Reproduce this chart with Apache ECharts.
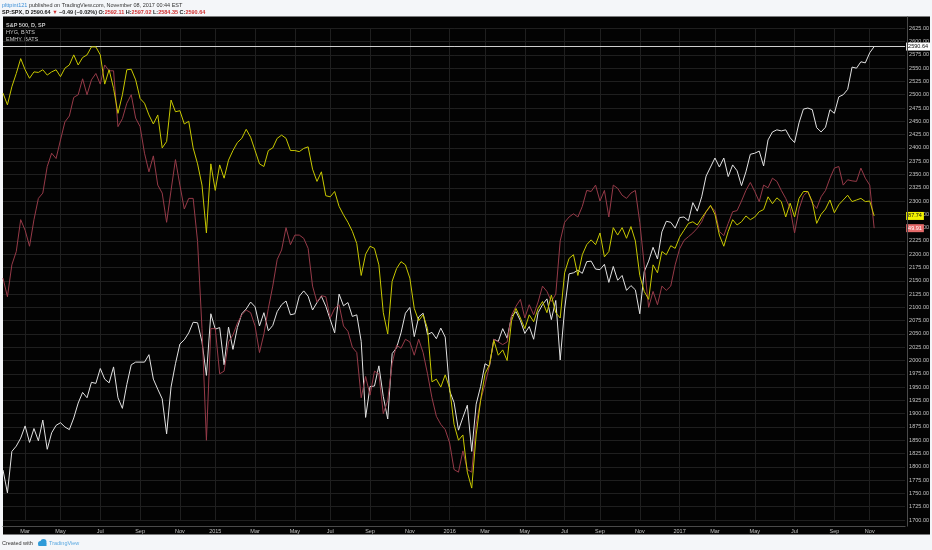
<!DOCTYPE html>
<html><head><meta charset="utf-8">
<script src="https://cdn.jsdelivr.net/npm/echarts@6/dist/echarts.min.js"></script>
<style>html,body{margin:0;padding:0;background:#f4f6f9;}#c{width:932px;height:550px;}</style>
</head><body><div id="c"></div>
<script>
// ---- categories (weekly sample dates) ----
const startDate = [2014, 0, 30];
const weeklyCount = 197;
const lastDate = '2017-11-07';
const futureDates = ['2017-11-14','2017-11-21','2017-11-28','2017-12-05','2017-12-12','2017-12-19','2017-12-26'];
function weeklyDates(s, n){const out=[];const t0=Date.UTC(s[0],s[1],s[2]);for(let k=0;k<n;k++){out.push(new Date(t0+k*7*86400000).toISOString().slice(0,10));}return out;}
const categories = weeklyDates(startDate, weeklyCount).concat([lastDate], futureDates);

// ---- series values (on the S&P price scale) ----
const spx = [
1794,1751,1829,1839,1854, 1877,1846,1872,1849, 1888,1833,1864,1878, 1883,1875,1870,1892,1920,
1940,1930,1959,1957, 1985,1965,1958,1988,1930, 1910,1955,1992,1997, 1997,1997,2011,1965,
1946,1928,1862,1950,1994, 2031,2039,2052,2072, 2071,2035,1972,2088,
2059,2062,1992,2063,2021, 2062,2088,2097,2110, 2101,2065,2090,2056, 2066,2092,2105,2112,2086,
2088,2121,2131,2121, 2095,2109,2121,2102, 2077,2052,2125,2103,2109, 2083,2086,2036,1893,
1951,1952,1990,1932, 1890,2013,2024,2052,2089, 2100,2045,2082,2089, 2049,2053,2041,2061,2044,
1943,1921,1869,1893, 1916,1829,1918,1951, 1994,1989,2040,2036,2060, 2042,2083,2092,2075,
2051,2064,2040,2090, 2105,2116,2077,2113,2001, 2097,2163,2165,2170, 2164,2186,2187,2172,
2171,2181,2147,2177,2151, 2160,2132,2141,2133, 2088,2167,2187,2213, 2191,2242,2262,2260,2249,
2269,2270,2263,2297, 2281,2308,2347,2364, 2381,2364,2381,2346,2368, 2357,2329,2355,2388,
2390,2394,2366,2415, 2430,2434,2432,2434,2419, 2410,2447,2473,2475, 2472,2438,2430,2439,2472,
2465,2496,2500,2510, 2552,2550,2562,2560, 2579, 2590.64];
const hyg = [
2503,2481,2515,2540,2568,2547,2531,2543,2542,2547,
2537,2543,2547,2534,2550,2556,2575,2556,2570,2575,
2590,2590,2575,2520,2547,2512,2465,2500,2547,2548,
2528,2493,2484,2462,2445,2462,2400,2412,2490,2468,
2470,2445,2450,2400,2370,2330,2240,2370,2320,2368,
2343,2377,2395,2410,2418,2435,2420,2395,2370,2365,
2395,2400,2418,2424,2418,2395,2395,2393,2399,2402,
2360,2337,2355,2310,2308,2318,2290,2274,2260,2243,
2220,2160,2200,2215,2211,2180,2090,2050,2149,2173,
2186,2180,2155,2098,2075,2086,2060,1960,1965,1950,
1973,1948,1880,1850,1860,1790,1760,1860,1925,1975,
1992,2038,2010,2020,2000,2075,2098,2080,2060,2086,
2073,2098,2111,2090,2123,2090,2080,2165,2192,2199,
2160,2199,2218,2227,2218,2240,2195,2205,2250,2236,
2250,2230,2252,2225,2160,2130,2115,2180,2165,2205,
2199,2216,2211,2232,2245,2258,2261,2255,2268,2280,
2292,2275,2236,2215,2243,2265,2255,2261,2272,2265,
2270,2280,2284,2308,2295,2306,2299,2270,2296,2270,
2305,2318,2318,2299,2258,2275,2285,2302,2278,2293,
2302,2311,2299,2302,2305,2299,2300,2272];
const emhy = [
2155,2120,2180,2205,2265,2245,2215,2265,2305,2315,
2365,2390,2380,2415,2449,2460,2495,2500,2530,2500,
2528,2540,2520,2556,2545,2545,2440,2455,2484,2500,
2456,2440,2390,2355,2385,2330,2315,2260,2320,2378,
2330,2285,2305,2305,2224,2060,1850,2060,2060,1975,
1980,2035,2048,2070,2086,2095,2090,2065,2015,2050,
2098,2140,2190,2208,2250,2218,2236,2236,2230,2211,
2140,2110,2122,2120,2080,2098,2105,2065,2055,2025,
2015,1930,1970,1935,1980,1975,1900,1925,1995,2029,
2023,2040,2035,2010,2040,2015,1975,1930,1895,1880,
1870,1845,1795,1790,1830,1795,1790,1880,1925,1955,
1990,2040,2035,2030,2035,2085,2102,2115,2080,2105,
2086,2110,2140,2130,2111,2125,2225,2260,2270,2276,
2270,2290,2320,2318,2330,2300,2320,2270,2330,2324,
2311,2305,2315,2320,2260,2180,2100,2130,2105,2140,
2132,2140,2180,2210,2226,2233,2240,2249,2261,2280,
2290,2282,2243,2235,2258,2280,2282,2300,2320,2335,
2318,2299,2330,2325,2343,2337,2320,2305,2286,2240,
2285,2310,2318,2296,2286,2308,2320,2343,2362,2365,
2330,2340,2338,2337,2362,2343,2330,2249];

// ---- tick labels ----
const tickMonths = ['2014-03','2014-05','2014-07','2014-09','2014-11','2015-01','2015-03','2015-05','2015-07','2015-09','2015-11',
  '2016-01','2016-03','2016-05','2016-07','2016-09','2016-11','2017-01','2017-03','2017-05','2017-07','2017-09','2017-11'];
const tickTexts = ['Mar','May','Jul','Sep','Nov','2015','Mar','May','Jul','Sep','Nov',
  '2016','Mar','May','Jul','Sep','Nov','2017','Mar','May','Jul','Sep','Nov'];
const yMin = 1700, yMax = 2625, yStep = 25;
const seriesNames = ['S&P 500, D, SP','HYG, BATS','EMHY, BATS'];
const lastTags = ['2590.64','87.74','49.91'];

const tickMap = {};
tickMonths.forEach((m,i)=>{const idx=categories.findIndex(d=>d.startsWith(m)); if(idx>=0) tickMap[idx]=tickTexts[i];});
const isTick = (i)=> tickMap[i] !== undefined;

const FONT = 'Liberation Sans, Arial, sans-serif';
const chart = echarts.init(document.getElementById('c'), null, {renderer:'canvas'});

function tagLine(value, text, bg, fg, lineColor){
  return {
    silent:true, symbol:'none', animation:false,
    lineStyle:{color:lineColor, width:1, type:'solid'},
    label:{show:true, position:'end', distance:1, formatter:text, backgroundColor:bg, color:fg,
      fontSize:5.5, fontFamily:FONT, padding:[1,2,1,2]},
    data:[{yAxis:value}]
  };
}

chart.setOption({
  animation:false,
  backgroundColor:'#f4f6f9',
  grid:{left:3, right:25, top:28.3, bottom:30, containLabel:false},
  xAxis:{
    type:'category', data:categories, boundaryGap:false, offset:6,
    axisLine:{show:true, lineStyle:{color:'#4a4a4a', width:1}},
    axisTick:{show:false},
    axisLabel:{interval:(i)=>isTick(i), formatter:(v,i)=>tickMap[i]||'', color:'#c4c4c4', fontSize:5.5, fontFamily:FONT, margin:2},
    splitLine:{show:true, interval:(i)=>isTick(i), lineStyle:{color:'#1f1f1f', width:1}}
  },
  yAxis:{
    type:'value', position:'right', min:yMin, max:yMax, interval:yStep,
    axisLine:{show:false}, axisTick:{show:false},
    axisLabel:{formatter:(v)=>v.toFixed(2), color:'#c4c4c4', fontSize:5.5, fontFamily:FONT, margin:4},
    splitLine:{show:true, lineStyle:{color:'#1f1f1f', width:1}}
  },
  series:[
    {name:seriesNames[0], type:'line', data:spx, showSymbol:false, symbol:'none',
      lineStyle:{color:'#e2e2e2', width:1}, z:3,
      markLine:tagLine(spx[spx.length-1], lastTags[0], '#ffffff', '#111', '#cfcfcf')},
    {name:seriesNames[2], type:'line', data:emhy, showSymbol:false, symbol:'none',
      lineStyle:{color:'#963a48', width:1}, z:4,
      markLine:tagLine(emhy[emhy.length-1], lastTags[2], '#e46a6a', '#ffffff', 'rgba(0,0,0,0)')},
    {name:seriesNames[1], type:'line', data:hyg, showSymbol:false, symbol:'none',
      lineStyle:{color:'#c8c800', width:1}, z:5,
      markLine:tagLine(hyg[hyg.length-1], lastTags[1], '#f4f400', '#111', 'rgba(0,0,0,0)')}
  ],
  graphic:[
    {type:'rect', z:-100, silent:true, shape:{x:3, y:16.5, width:927, height:518}, style:{fill:'#030303'}},
    {type:'line', z:50, silent:true, shape:{x1:907.5, y1:16.5, x2:907.5, y2:526.5}, style:{stroke:'#4a4a4a', lineWidth:1}},
    {type:'text', silent:true, left:2, top:2, style:{
      text:'{u|plttpint121} published on TradingView.com, November 08, 2017 00:44 EST',
      fontSize:5.5, fontFamily:FONT, fill:'#333',
      rich:{u:{fill:'#3b8fd8', fontSize:5.5, fontFamily:FONT}}}},
    {type:'text', silent:true, left:2, top:9.5, style:{
      text:'{b|SP:SPX, D} 2590.64 {r|▼} −0.49 (−0.02%) O:{r|2592.11} H:{r|2597.02} L:{r|2584.35} C:{r|2590.64}',
      fontSize:5.5, fontFamily:FONT, fill:'#222', fontWeight:'bold',
      rich:{b:{fontWeight:'bold', fill:'#111', fontSize:5.5, fontFamily:FONT}, r:{fill:'#d03030', fontSize:5.5, fontFamily:FONT, fontWeight:'bold'}}}},
    {type:'text', silent:true, left:6, top:22, style:{text:seriesNames[0], fontSize:5.5, fontFamily:FONT, fill:'#c8c8c8', fontWeight:'bold'}},
    {type:'text', silent:true, left:6, top:29, style:{text:seriesNames[1], fontSize:5.5, fontFamily:FONT, fill:'#c8c8c8'}},
    {type:'text', silent:true, left:6, top:36, style:{text:seriesNames[2], fontSize:5.5, fontFamily:FONT, fill:'#c8c8c8'}},
    {type:'text', silent:true, left:2, top:540, style:{text:'Created with', fontSize:5.5, fontFamily:FONT, fill:'#333'}},
    {type:'group', silent:true, left:38, top:539, children:[
      {type:'circle', shape:{cx:3, cy:4.5, r:2.5}, style:{fill:'#2f9ad8'}},
      {type:'circle', shape:{cx:6, cy:3, r:3}, style:{fill:'#2f9ad8'}},
      {type:'rect', shape:{x:1, y:4, width:8, height:3}, style:{fill:'#2f9ad8'}}
    ]},
    {type:'text', silent:true, left:49, top:540, style:{text:'TradingView', fontSize:5.5, fontFamily:FONT, fill:'#5aa8e0'}}
  ]
});
</script></body></html>
